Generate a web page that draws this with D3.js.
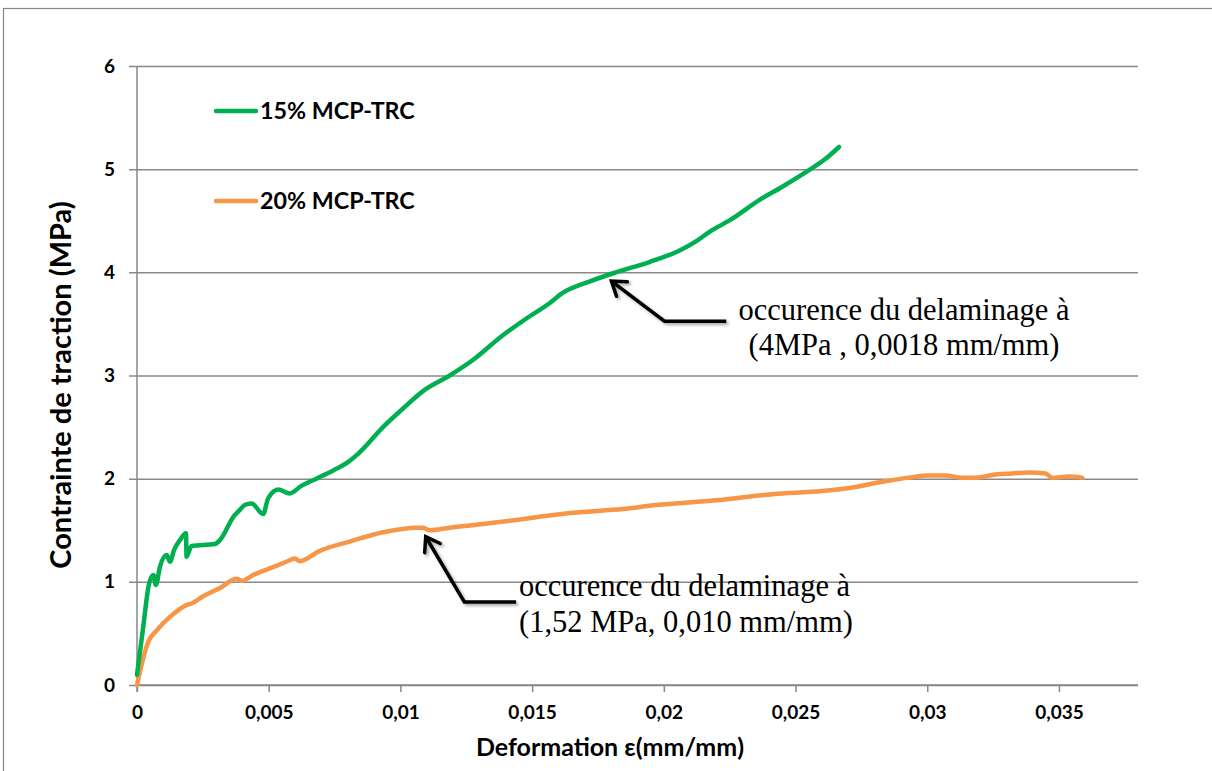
<!DOCTYPE html>
<html><head><meta charset="utf-8">
<script src="https://cdn.jsdelivr.net/npm/d3@7"></script>
<style>html,body{margin:0;padding:0;background:#fff;overflow:hidden}</style>
</head><body>
<svg id="c" width="1212" height="771"></svg>
<script>
const xTicks = [0, 0.005, 0.01, 0.015, 0.02, 0.025, 0.03, 0.035];
const xTickLabels = ["0", "0,005", "0,01", "0,015", "0,02", "0,025", "0,03", "0,035"];
const yTicks = [0, 1, 2, 3, 4, 5, 6];
const seriesNames = ["15% MCP-TRC", "20% MCP-TRC"];
const green15X = [0, 0.00023, 0.00046, 0.00062, 0.00072, 0.00087, 0.00113, 0.00125, 0.00141, 0.00163, 0.00186, 0.00188, 0.00207, 0.00296, 0.00315, 0.00371, 0.00384, 0.00409, 0.00435, 0.00479, 0.00498, 0.00536, 0.0058, 0.00624, 0.00681, 0.00745, 0.00801, 0.00839, 0.00934, 0.0101, 0.01092, 0.01187, 0.01275, 0.01389, 0.01477, 0.01566, 0.01616, 0.01717, 0.01818, 0.01945, 0.02058, 0.02122, 0.02172, 0.0226, 0.02362, 0.0245, 0.02551, 0.02614, 0.02665];
const green15Y = [0.1, 0.55, 0.985, 1.066, 0.97, 1.146, 1.26, 1.195, 1.31, 1.405, 1.47, 1.243, 1.347, 1.366, 1.405, 1.647, 1.68, 1.744, 1.76, 1.657, 1.81, 1.896, 1.857, 1.93, 2.0, 2.08, 2.16, 2.24, 2.50, 2.68, 2.86, 3.0, 3.15, 3.39, 3.55, 3.70, 3.80, 3.91, 4.0, 4.10, 4.21, 4.30, 4.39, 4.52, 4.70, 4.83, 4.99, 5.10, 5.215];
const orange20X = [0, 0.00043, 0.00075, 0.00125, 0.00188, 0.00207, 0.00251, 0.00315, 0.00378, 0.00397, 0.00441, 0.00504, 0.00567, 0.00599, 0.00618, 0.00694, 0.00807, 0.00934, 0.0106, 0.01085, 0.01111, 0.01187, 0.01313, 0.01439, 0.01528, 0.01654, 0.01844, 0.0197, 0.02197, 0.02412, 0.026, 0.02703, 0.0283, 0.0293, 0.03006, 0.03069, 0.03132, 0.03183, 0.03259, 0.03322, 0.03385, 0.03449, 0.03474, 0.03537, 0.03588];
const orange20Y = [0, 0.42, 0.53, 0.66, 0.775, 0.79, 0.86, 0.94, 1.03, 1.01, 1.066, 1.13, 1.195, 1.227, 1.20, 1.30, 1.39, 1.48, 1.525, 1.525, 1.50, 1.525, 1.56, 1.60, 1.63, 1.67, 1.705, 1.744, 1.79, 1.85, 1.88, 1.91, 1.97, 2.01, 2.03, 2.03, 2.01, 2.01, 2.04, 2.05, 2.06, 2.05, 2.01, 2.02, 2.01];
// annotations: arrow tail, elbow, tip in data units, plus text lines
const annot1Lines = ["occurence du delaminage à", "(4MPa , 0,0018 mm/mm)"];
const annot1Arrow = [[0.02237, 3.527], [0.02002, 3.527], [0.01801, 3.915]];
const annot2Lines = ["occurence du delaminage à", "(1,52 MPa, 0,010 mm/mm)"];
const annot2Arrow = [[0.01439, 0.804], [0.01243, 0.804], [0.01096, 1.437]];

const svg = d3.select("#c");
const W = 1212, H = 771;
const m = {l: 137, r: 1138, t: 66, b: 685};
const x = d3.scaleLinear().domain([0, 0.038]).range([m.l, m.r]);
const y = d3.scaleLinear().domain([0, 6]).range([m.b, m.t]);
const gridCol = "#898989";
const sans = "Lato, 'Open Sans', sans-serif";
const serif = "'Liberation Serif', 'Times New Roman', serif";

const defs = svg.append("defs");
const f = defs.append("filter").attr("id", "sh").attr("x", "-20%").attr("y", "-20%").attr("width", "150%").attr("height", "150%");
f.append("feDropShadow").attr("dx", 2).attr("dy", 2).attr("stdDeviation", 1.5).attr("flood-color", "#000").attr("flood-opacity", 0.35);

svg.append("rect").attr("x", 3.5).attr("y", 8.5).attr("width", W + 10).attr("height", H + 10)
  .attr("fill", "none").attr("stroke", "#868686").attr("stroke-width", 1.2);

// y grid + ticks
const yAxis = d3.axisLeft(y).tickValues(yTicks).tickSize(-(m.r - m.l)).tickFormat(d => d).tickPadding(22);
const gy = svg.append("g").attr("transform", `translate(${m.l},0)`).call(yAxis);
gy.select(".domain").remove();
gy.selectAll(".tick line").attr("x1", -8).attr("stroke", gridCol).attr("stroke-width", 1.5);
gy.selectAll(".tick text").attr("font-family", sans).attr("font-weight", "bold").attr("font-size", 19).attr("fill", "#000").attr("x", -22);

// y axis line
svg.append("line").attr("x1", m.l).attr("x2", m.l).attr("y1", m.t).attr("y2", m.b + 7).attr("stroke", gridCol).attr("stroke-width", 1.5);

// x axis
const xAxis = d3.axisBottom(x).tickValues(xTicks).tickSize(7).tickFormat((d, i) => xTickLabels[i]).tickPadding(14);
const gx = svg.append("g").attr("transform", `translate(0,${m.b})`).call(xAxis);
gx.select(".domain").attr("d", `M${m.l},0H${m.r}`).attr("stroke", gridCol).attr("stroke-width", 1.5);
gx.selectAll(".tick line").attr("stroke", gridCol).attr("stroke-width", 1.5);
gx.selectAll(".tick text").attr("font-family", sans).attr("font-weight", "bold").attr("font-size", 19).attr("fill", "#000");

// axis titles
svg.append("text").attr("transform", `translate(71,385) rotate(-90)`).attr("text-anchor", "middle")
  .attr("font-family", sans).attr("font-weight", "bold").attr("font-size", 29).text("Contrainte de traction (MPa)");
svg.append("text").attr("x", 610).attr("y", 756).attr("text-anchor", "middle")
  .attr("font-family", sans).attr("font-weight", "bold").attr("font-size", 25).text("Deformation ε(mm/mm)");

// series
const line = d3.line().x(d => x(d[0])).y(d => y(d[1])).curve(d3.curveMonotoneX);
const series = [
  {name: seriesNames[0], color: "#00B050", pts: d3.zip(green15X, green15Y)},
  {name: seriesNames[1], color: "#F79646", pts: d3.zip(orange20X, orange20Y)}
];
svg.append("g").selectAll("path").data(series.slice().reverse()).join("path")
  .attr("d", d => line(d.pts)).attr("fill", "none").attr("stroke", d => d.color)
  .attr("stroke-width", 4.5).attr("stroke-linejoin", "round").attr("stroke-linecap", "round");

// legend
const lg = svg.append("g").selectAll("g").data(series).join("g")
  .attr("transform", (d, i) => `translate(216,${111 + i * 90})`);
lg.append("line").attr("x1", 0).attr("x2", 40).attr("stroke", d => d.color).attr("stroke-width", 4.5).attr("stroke-linecap", "round");
lg.append("text").attr("x", 44).attr("y", 8).attr("font-family", sans).attr("font-weight", "bold").attr("font-size", 23.3).text(d => d.name);

// annotations
function arrow(pts) {
  const g = svg.append("g").attr("filter", "url(#sh)");
  const p = pts.map(d => [x(d[0]), y(d[1])]);
  g.append("path").attr("d", d3.line()(p)).attr("fill", "none").attr("stroke", "#000").attr("stroke-width", 3.5).attr("stroke-linejoin", "round");
  const tip = p[2], from = p[1];
  const ang = Math.atan2(from[1] - tip[1], from[0] - tip[0]);
  const L = 16, spread = 0.6;
  const a1 = [tip[0] + L * Math.cos(ang + spread), tip[1] + L * Math.sin(ang + spread)];
  const a2 = [tip[0] + L * Math.cos(ang - spread), tip[1] + L * Math.sin(ang - spread)];
  g.append("path").attr("d", d3.line()([a1, tip, a2])).attr("fill", "none").attr("stroke", "#000").attr("stroke-width", 3.5).attr("stroke-linejoin", "miter").attr("stroke-linecap", "round");
}
arrow(annot1Arrow);
arrow(annot2Arrow);

const t1 = svg.append("text").attr("font-family", serif).attr("font-size", 30.5).attr("text-anchor", "middle").attr("fill", "#000");
annot1Lines.forEach((s, i) => t1.append("tspan").attr("x", 904).attr("y", 320 + i * 35).text(s));
const t2 = svg.append("text").attr("font-family", serif).attr("font-size", 30.5).attr("text-anchor", "start").attr("fill", "#000");
annot2Lines.forEach((s, i) => t2.append("tspan").attr("x", 519).attr("y", 596 + i * 36).text(s));
</script>
</body></html>
